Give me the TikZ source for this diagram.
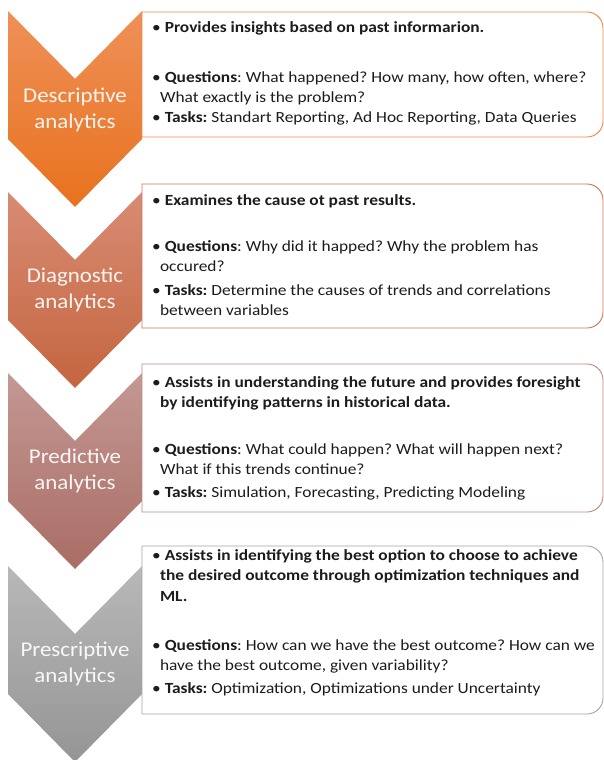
\documentclass[tikz,border=0pt]{standalone}
\usepackage{fontspec}
\setmainfont{Carlito}
\frenchspacing
\definecolor{descTop}{HTML}{EF9058}
\definecolor{descBot}{HTML}{E8721E}
\definecolor{descLine}{HTML}{EE8A46}
\definecolor{diagTop}{HTML}{D88C74}
\definecolor{diagBot}{HTML}{C4653F}
\definecolor{diagLine}{HTML}{D27458}
\definecolor{predTop}{HTML}{C49893}
\definecolor{predBot}{HTML}{A96D65}
\definecolor{predLine}{HTML}{BE8A84}
\definecolor{presTop}{HTML}{B8B8B8}
\definecolor{presBot}{HTML}{959595}
\definecolor{presLine}{HTML}{A6A6A6}
\definecolor{bodyText}{HTML}{1C1C1C}
\begin{document}
\begin{tikzpicture}[x=1pt,y=-1pt,
  stagelabel/.style={text=white, text opacity=0.92, align=center,
    font=\fontsize{21}{26}\selectfont, inner sep=0, xscale=1.09, transform shape},
  para/.style={anchor=base west, align=left, inner sep=0, text=bodyText,
    font=\fontsize{15.5}{20.5}\selectfont\frenchspacing, xscale=1.12, transform shape},
  boxline/.style={line width=0.9pt, fill=white},
]
\useasboundingbox (0,0) rectangle (604,760);
\fill[white] (0,0) rectangle (604,760);

% chevron arrows, one per stage (top edge given)
\newcommand{\chev}[3]{%
  \shade[top color=#2, bottom color=#3]
    (8,#1) -- (75,#1+68) -- (142,#1) -- (142,#1+128) -- (75,#1+196) -- (8,#1+128) -- cycle;}
% text frames with rounded right corners
\newcommand{\frm}[3]{%
  \draw[boxline, draw=#3]
    (142,#1) -- (587,#1) arc[start angle=-90, end angle=0, radius=16]
    -- (603,#2-16) arc[start angle=0, end angle=90, radius=16]
    -- (142,#2) -- cycle;}

\chev{11}{descTop}{descBot}
\chev{192}{diagTop}{diagBot}
\chev{373}{predTop}{predBot}
\chev{566}{presTop}{presBot}

\frm{12}{137}{descLine}
\frm{184}{328}{diagLine}
\frm{364}{512}{predLine}
\frm{546}{714}{presLine}

% stage names
\node[stagelabel] (lab1) at (75,110) {Descriptive\\analytics};
\node[stagelabel] (lab2) at (75,290) {Diagnostic\\analytics};
\node[stagelabel] (lab3) at (75,471) {Predictive\\analytics};
\node[stagelabel] (lab4) at (75,664) {Prescriptive\\analytics};

% bullet texts (each node is placed by the baseline of its last line)
% descriptive
\node[para] (d1) at (152,33) {\textbullet\ \textbf{Provides insights based on past informarion.}};
\node[para] (d2) at (152,102.5) {\textbullet\ \textbf{Questions}: What happened? How many, how often, where?\\\hspace*{7pt}What exactly is the problem?};
\node[para] (d3) at (152,122) {\textbullet\ \textbf{Tasks:} Standart Reporting, Ad Hoc Reporting, Data Queries};

% diagnostic
\node[para] (g1) at (152,205) {\textbullet\ \textbf{Examines the cause ot past results.}};
\node[para] (g2) at (152,271.5) {\textbullet\ \textbf{Questions}: Why did it happed? Why the problem has\\\hspace*{7pt}occured?};
\node[para] (g3) at (152,315.5) {\textbullet\ \textbf{Tasks:} Determine the causes of trends and correlations\\\hspace*{7pt}between variables};

% predictive
\node[para] (p1) at (152,407.5) {\textbullet\ \textbf{Assists in understanding the future and provides foresight}\\\hspace*{7pt}\textbf{by identifying patterns in historical data.}};
\node[para] (p2) at (152,474.5) {\textbullet\ \textbf{Questions}: What could happen? What will happen next?\\\hspace*{7pt}What if this trends continue?};
\node[para] (p3) at (152,497) {\textbullet\ \textbf{Tasks:} Simulation, Forecasting, Predicting Modeling};

% prescriptive
\node[para] (s1) at (152,601) {\textbullet\ \textbf{Assists in identifying the best option to choose to achieve}\\\hspace*{7pt}\textbf{the desired outcome through optimization techniques and}\\\hspace*{7pt}\textbf{ML.}};
\node[para] (s2) at (152,670.5) {\textbullet\ \textbf{Questions}: How can we have the best outcome? How can we\\\hspace*{7pt}have the best outcome, given variability?};
\node[para] (s3) at (152,693) {\textbullet\ \textbf{Tasks:} Optimization, Optimizations under Uncertainty};
\end{tikzpicture}
\end{document}
